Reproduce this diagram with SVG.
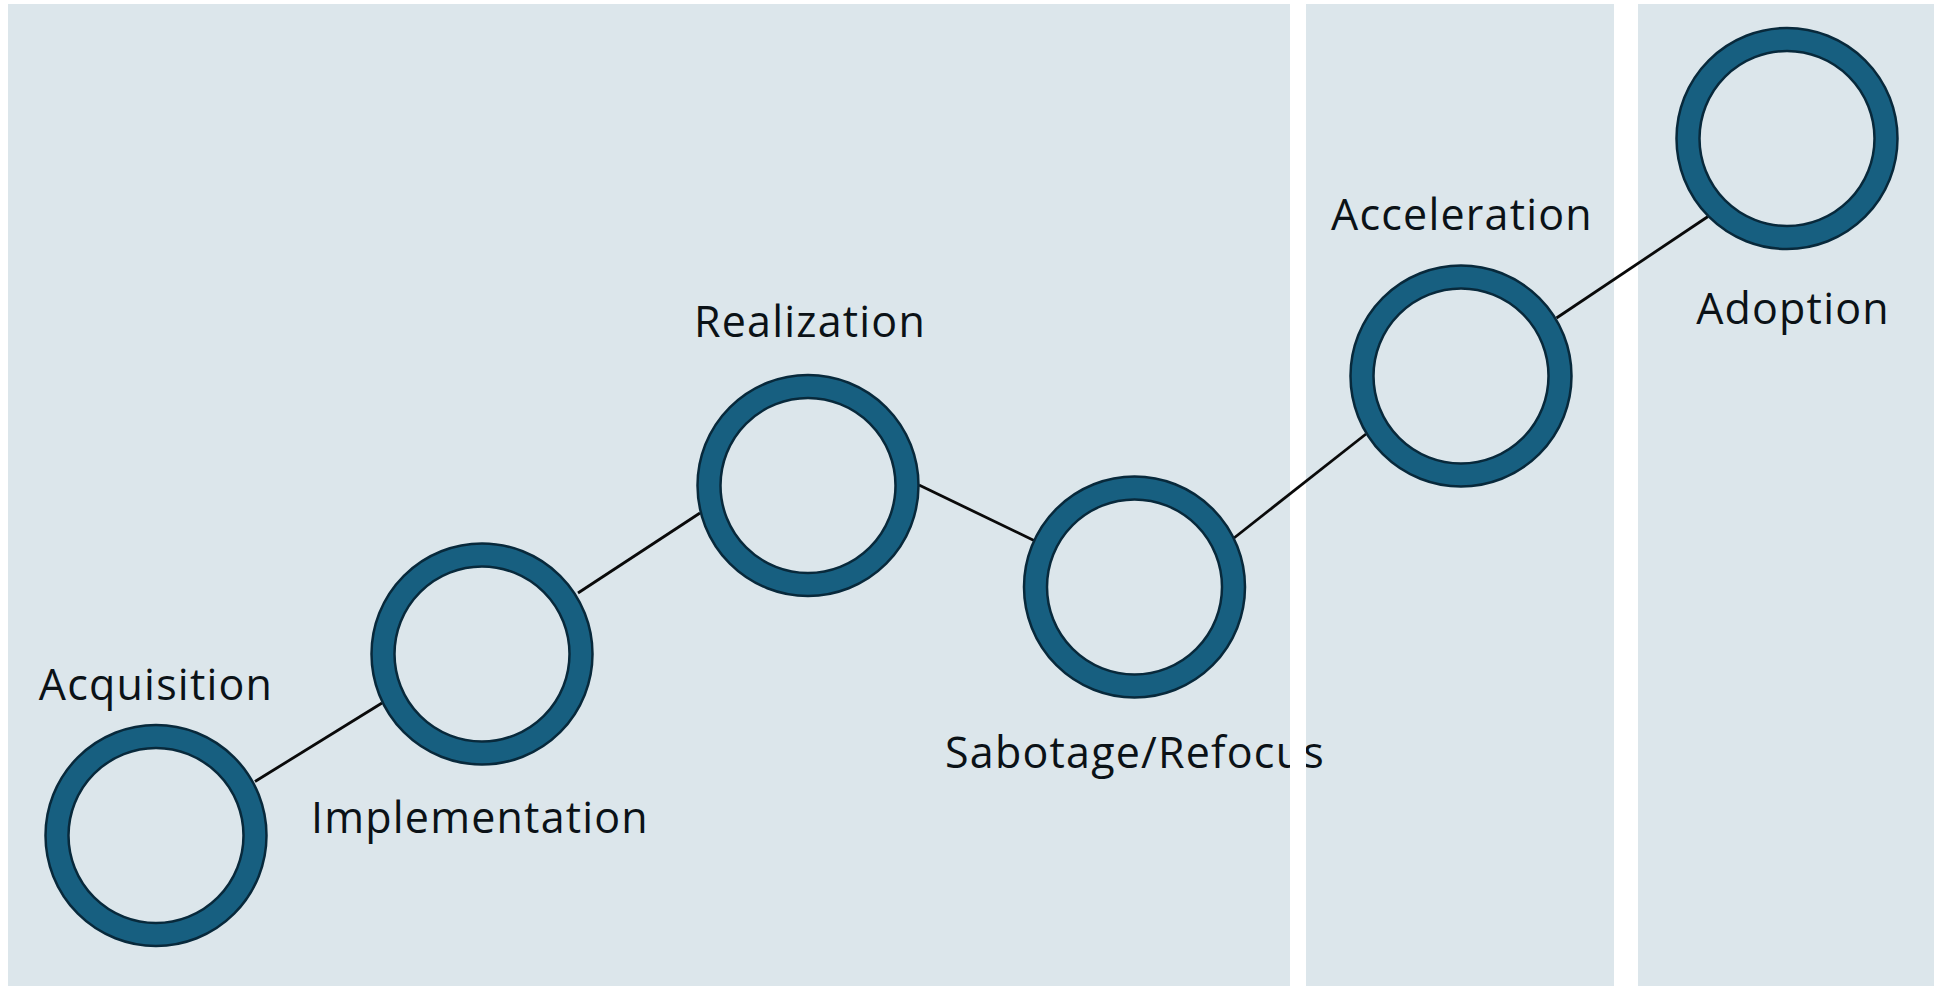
<svg xmlns="http://www.w3.org/2000/svg" width="1934" height="986" viewBox="0 0 1934 986">
<style>
.panel{fill:#DCE6EB}
.outer{fill:#175F80;stroke:#08293B;stroke-width:2.5}
.inner{fill:#DCE6EB;stroke:#08293B;stroke-width:2.5}
.conn{stroke:#0A0A0A;stroke-width:2.8;fill:none}
.lbl{font-family:"Open Sans","Noto Sans","Liberation Sans",sans-serif;font-size:43px;letter-spacing:1.2px;fill:#0B1217;text-anchor:middle}
</style>
<rect width="1934" height="986" fill="#FFFFFF"/>
<g id="panels">
<rect class="panel" x="8" y="4" width="1282" height="982"/>
<rect class="panel" x="1306" y="4" width="308" height="982"/>
<rect class="panel" x="1638" y="4" width="296" height="982"/>
</g>
<g id="connectors">
<line class="conn" x1="255" y1="781.5" x2="382" y2="703"/>
<line class="conn" x1="578" y1="593" x2="700" y2="513"/>
<line class="conn" x1="919" y1="485" x2="1034" y2="540.5"/>
<line class="conn" x1="1234" y1="538" x2="1366" y2="434"/>
<line class="conn" x1="1556.5" y1="318" x2="1708" y2="216.5"/>
</g>
<g id="acquisition">
<circle class="outer" cx="156" cy="835.5" r="110.5"/>
<circle class="inner" cx="156" cy="835.5" r="87.5"/>
<text class="lbl" x="156" y="700">Acquisition</text>
</g>
<g id="implementation">
<circle class="outer" cx="482" cy="654" r="110.5"/>
<circle class="inner" cx="482" cy="654" r="87.5"/>
<text class="lbl" x="480" y="833">Implementation</text>
</g>
<g id="realization">
<circle class="outer" cx="808" cy="485.5" r="110.5"/>
<circle class="inner" cx="808" cy="485.5" r="87.5"/>
<text class="lbl" x="810" y="337">Realization</text>
</g>
<g id="sabotage-refocus">
<circle class="outer" cx="1134.5" cy="587" r="110.5"/>
<circle class="inner" cx="1134.5" cy="587" r="87.5"/>
<text class="lbl" x="1135" y="768">Sabotage/Refocus</text>
</g>
<g id="acceleration">
<circle class="outer" cx="1461" cy="376" r="110.5"/>
<circle class="inner" cx="1461" cy="376" r="87.5"/>
<text class="lbl" x="1462" y="230">Acceleration</text>
</g>
<g id="adoption">
<circle class="outer" cx="1787" cy="138.5" r="110.5"/>
<circle class="inner" cx="1787" cy="138.5" r="87.5"/>
<text class="lbl" x="1793" y="324">Adoption</text>
</g>
<rect x="1290" y="720" width="16" height="60" fill="#FFFFFF"/>
</svg>
